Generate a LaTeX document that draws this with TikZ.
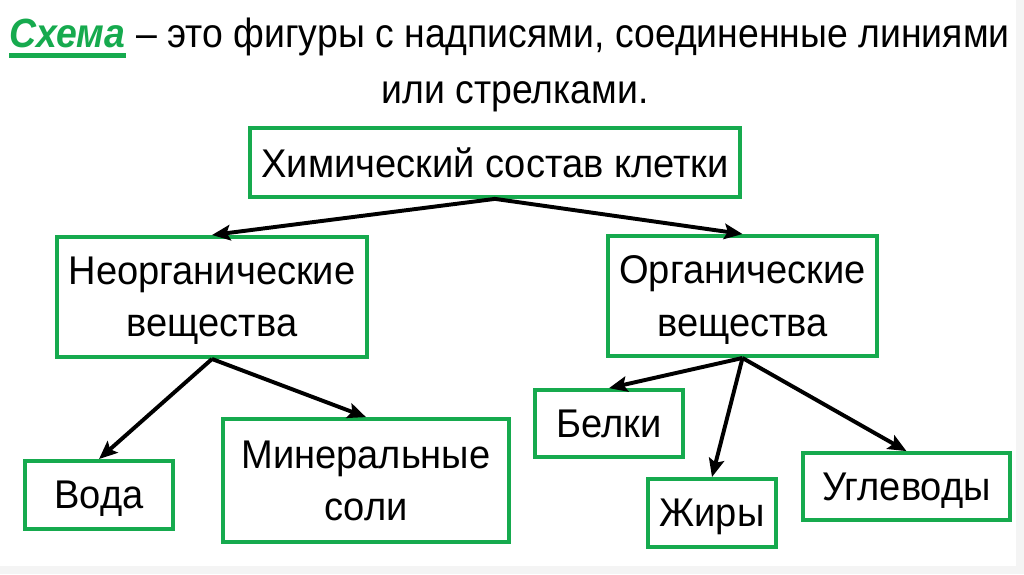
\documentclass[tikz,border=0pt]{standalone}
\usepackage{fontspec}
\setmainfont{Liberation Sans}
\newfontfamily\titlefont[FakeStretch=0.917]{Liberation Sans}
\newfontfamily\boxfont[FakeStretch=0.95]{Liberation Sans}
\usetikzlibrary{arrows.meta}
\definecolor{boxgreen}{RGB}{22,170,78}
\definecolor{edgegray}{RGB}{244,244,244}
\tikzset{
  cellbox/.style={draw=boxgreen, line width=2.8pt, fill=white, align=center, inner sep=0pt,
    text depth=0pt, font=\boxfont\fontsize{28.5}{37}\selectfont},
  titletext/.style={inner sep=0pt, font=\titlefont\fontsize{29}{36}\selectfont},
  link/.style={-{Stealth[length=13pt, width=11pt, inset=2.5pt]}, line width=2.8pt, black}
}
\begin{document}
\begin{tikzpicture}[x=0.025cm, y=-0.025cm]
  \useasboundingbox (0,0) rectangle (1024,574);
  \fill[edgegray] (1016,0) rectangle (1024,574);
  \fill[edgegray] (0,566) rectangle (1024,574);
  % title
  \node[titletext, anchor=base west, text=boxgreen, font=\titlefont\fontsize{29}{36}\selectfont\bfseries\itshape] (schema) at (9,47) {Схема};
  \node[titletext, anchor=base west] (deftext) at (schema.base east) {\ – это фигуры с надписями, соединенные линиями};
  \node[titletext, anchor=base] (deftail) at (515,103) {или стрелками.};
  \draw[boxgreen, line width=3.2pt] ([yshift=-5.9pt]schema.base west) -- ([yshift=-5.9pt]schema.base east);
  % boxes
  \node[cellbox, minimum width=12.25cm, minimum height=1.72cm] (cell) at (495,162.5) {Химический состав клетки};
  \node[cellbox, minimum width=7.75cm, minimum height=3cm] (inorg) at (212,297) {Неорганические\\вещества};
  \node[cellbox, minimum width=6.72cm, minimum height=3cm] (org) at (742.5,296) {Органические\\вещества};
  \node[cellbox, minimum width=3.7cm, minimum height=1.7cm] (water) at (99,495) {Вода};
  \node[cellbox, minimum width=7.15cm, minimum height=3.07cm] (salts) at (366,480.5) {Минеральные\\соли};
  \node[cellbox, minimum width=3.7cm, minimum height=1.67cm] (protein) at (609,423.5) {Белки};
  \node[cellbox, minimum width=3.2cm, minimum height=1.7cm] (fats) at (712,513) {Жиры};
  \node[cellbox, minimum width=5.17cm, minimum height=1.67cm] (carbs) at (906.5,486.5) {Углеводы};
  % arrows
  \foreach \from/\to in {cell/inorg, cell/org, inorg/water, inorg/salts, org/protein, org/fats, org/carbs}
    \draw[link] (\from.south) -- (\to.north);
\end{tikzpicture}
\end{document}
